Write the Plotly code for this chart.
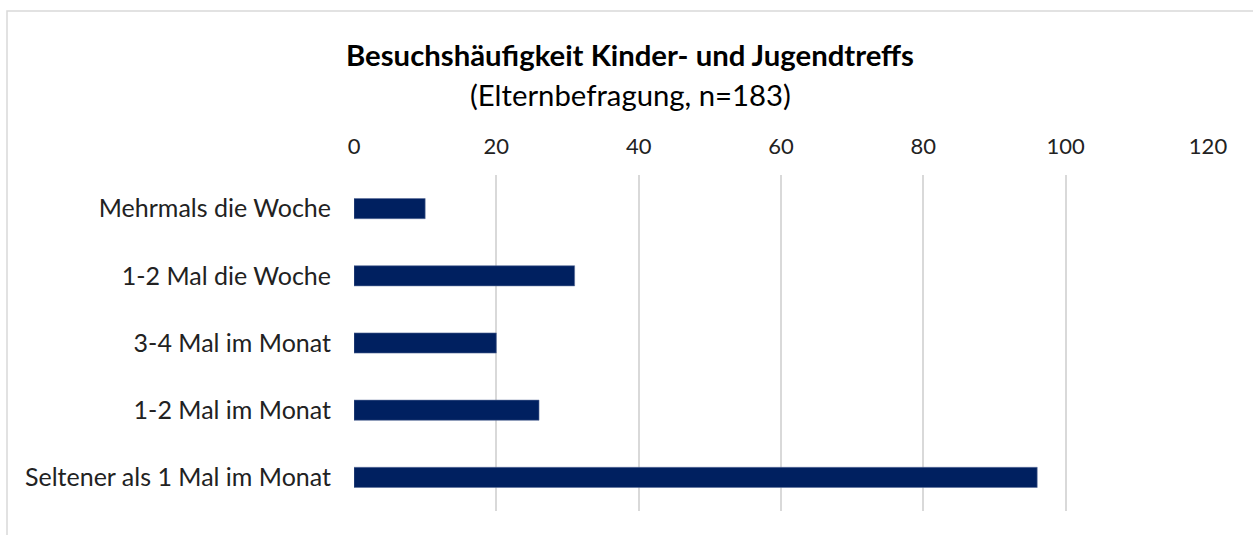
import plotly.graph_objects as go

categories = ["Mehrmals die Woche", "1-2 Mal die Woche", "3-4 Mal im Monat",
              "1-2 Mal im Monat", "Seltener als 1 Mal im Monat"]
values = [10, 31, 20, 26, 96]
tick_vals = [0, 20, 40, 60, 80, 100, 120]

FONT = "Lato, 'Open Sans', sans-serif"

fig = go.Figure(go.Bar(
    y=categories, x=values, orientation="h",
    marker=dict(color="#002060", line=dict(color="#5a6f9a", width=0.6)),
    width=0.3,
))

W, H = 1253, 535
ml, mr, mt, mb = 354, 45, 175, 24
pw, ph = W - ml - mr, H - mt - mb

fig.update_layout(
    width=W, height=H,
    margin=dict(l=ml, r=mr, t=mt, b=mb),
    paper_bgcolor="white", plot_bgcolor="white",
    font=dict(family=FONT, size=22, color="#222222"),
    showlegend=False,
    xaxis=dict(side="top", range=[0, 120], tickvals=tick_vals,
               showgrid=True, gridcolor="#d9d9d9", gridwidth=1.5,
               zeroline=False, showline=False, ticks="",
               ticklabelstandoff=16,
               tickfont=dict(size=22, color="#222222")),
    yaxis=dict(autorange="reversed", showgrid=False, zeroline=False,
               showline=False, ticks="", ticklabelstandoff=22,
               tickfont=dict(size=25, color="#222222")),
    annotations=[
        dict(text="<b>Besuchshäufigkeit Kinder- und Jugendtreffs</b>",
             xref="paper", yref="paper", x=(630 - ml) / pw, y=1 + (mt - 55) / ph,
             xanchor="center", yanchor="middle", showarrow=False,
             font=dict(size=29.3, color="#000000", family=FONT)),
        dict(text="(Elternbefragung, n=183)",
             xref="paper", yref="paper", x=(630 - ml) / pw, y=1 + (mt - 95) / ph,
             xanchor="center", yanchor="middle", showarrow=False,
             font=dict(size=29.3, color="#000000", family=FONT)),
    ],
    shapes=[
        dict(type="rect", xref="paper", yref="paper",
             x0=(7 - ml) / pw, x1=(W + 20 - ml) / pw,
             y0=-0.5, y1=1 + (mt - 11) / ph,
             line=dict(color="#d9d9d9", width=1.5), layer="below"),
    ],
)

fig.write_html("out.html",
               config={"displayModeBar": False},
               post_script="document.body.style.margin='0';document.body.style.overflow='hidden';")
